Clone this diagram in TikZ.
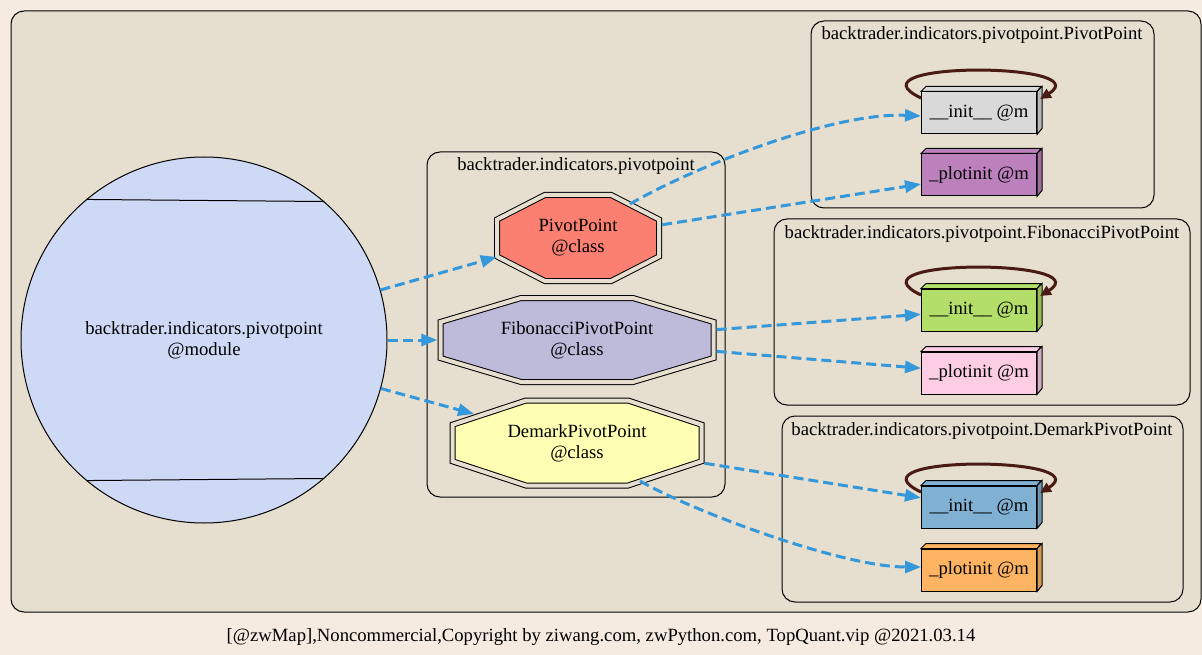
\documentclass[tikz,border=0pt]{standalone}
\usepackage{fontspec}
\setmainfont{Liberation Serif}
\usetikzlibrary{arrows.meta}

\definecolor{pagebg}{HTML}{F6EBE1}
\definecolor{clusterbg}{HTML}{E6DFCF}
\definecolor{modfill}{HTML}{CDD9F5}
\definecolor{edgeblue}{HTML}{3498DB}
\definecolor{loopbrown}{HTML}{4A1A14}
\definecolor{ppfill}{HTML}{FB8072}
\definecolor{fibfill}{HTML}{BEBADA}
\definecolor{dmfill}{HTML}{FFFFB3}
\definecolor{ppinitfill}{HTML}{D9D9D9}
\definecolor{ppplotfill}{HTML}{BC80BD}
\definecolor{fibinitfill}{HTML}{B3DE69}
\definecolor{fibplotfill}{HTML}{FCCDE5}
\definecolor{dminitfill}{HTML}{80B1D3}
\definecolor{dmplotfill}{HTML}{FDB462}

\tikzset{
  cluster/.style={draw, fill=clusterbg, rounded corners=13pt, line width=1pt},
  clusterlabel/.style={anchor=base, inner sep=0pt},
  octline/.style={draw, double=clusterbg, double distance=4pt, line width=1pt},
  methnode/.style={draw, line width=1pt, minimum width=115pt, minimum height=42pt, inner sep=0pt},
  dep/.style={draw=edgeblue, line width=3pt, dash pattern=on 10pt off 5pt,
    -{Triangle[length=16pt,width=12pt]}},
  selfloop/.style={draw=loopbrown, line width=3pt, -{Triangle[length=11pt,width=10pt]}},
}

% class octagon (double border): name, position, fill, half width, half height, text
\newcommand\classoct[6]{%
  \coordinate (#1c) at (#2);
  \draw[octline, fill=#3] (#1c) ++({-0.41*#4},{-#5}) -- ++({0.82*#4},0) -- ++({0.59*#4},{0.57*#5})
    -- ++(0,{0.86*#5}) -- ++({-0.59*#4},{0.57*#5}) -- ++({-0.82*#4},0) -- ++({-0.59*#4},{-0.57*#5})
    -- ++(0,{-0.86*#5}) -- cycle;
  \node[minimum width={2*#4+6}, minimum height={2*#5+6}, inner sep=0pt, align=center] (#1) at (#1c) {#6};
}

% method box with 3d faces: name, position, fill, text
\newcommand\methbox[4]{%
  \node[methnode, fill=#3] (#1) at (#2) {#4};
  \draw[line width=1pt, fill=#3] (#1.north west) -- ++(5,-5) -- ++(115,0) -- (#1.north east) -- cycle;
  \draw[line width=1pt, fill=#3!85!black] (#1.north east) -- ++(5,-5) -- ++(0,42) -- (#1.south east) -- cycle;
}

\begin{document}
\begin{tikzpicture}[x=1pt, y=-1pt, font=\fontsize{18.67}{21}\selectfont]

  \useasboundingbox[fill=pagebg] (0,0) rectangle (1202,655);

  % clusters
  \draw[cluster] (11,11) rectangle (1201,612);
  \draw[cluster] (427,152) rectangle (725,497);
  \draw[cluster] (811,21) rectangle (1154,208);
  \draw[cluster] (774,219) rectangle (1190,405);
  \draw[cluster] (782,416) rectangle (1183,602);

  \node[clusterlabel] (lbpkg) at (576,171) {backtrader.indicators.pivotpoint};
  \node[clusterlabel] (lbpp) at (982,40) {backtrader.indicators.pivotpoint.PivotPoint};
  \node[clusterlabel] (lbfib) at (982,238) {backtrader.indicators.pivotpoint.FibonacciPivotPoint};
  \node[clusterlabel] (lbdm) at (982,435) {backtrader.indicators.pivotpoint.DemarkPivotPoint};

  % module
  \node[circle, draw, line width=1pt, fill=modfill, minimum size=366pt, inner sep=0pt, align=center]
    (mod) at (204,340) {backtrader.indicators.pivotpoint\\@module};
  \draw[line width=1pt] (mod.130.6) -- (mod.49.4);
  \draw[line width=1pt] (mod.-130.6) -- (mod.-49.4);

  % classes
  \classoct{pp}{578,238}{ppfill}{81}{43}{PivotPoint\\@class}
  \classoct{fib}{577,340}{fibfill}{136.5}{42}{FibonacciPivotPoint\\@class}
  \classoct{dm}{577,443}{dmfill}{124.5}{42.5}{DemarkPivotPoint\\@class}

  % methods
  \methbox{ppinit}{979,113}{ppinitfill}{\_\_init\_\_ @m}
  \methbox{ppplot}{979,175}{ppplotfill}{\_plotinit @m}
  \methbox{fibinit}{979,310}{fibinitfill}{\_\_init\_\_ @m}
  \methbox{fibplot}{979,373}{fibplotfill}{\_plotinit @m}
  \methbox{dminit}{979,507}{dminitfill}{\_\_init\_\_ @m}
  \methbox{dmplot}{979,570}{dmplotfill}{\_plotinit @m}

  % self loops on __init__
  \foreach \m in {ppinit,fibinit,dminit}
    \draw[selfloop] ([yshift=15pt]\m.west) .. controls +(-78,-37) and +(60,-37) .. ([xshift=3pt,yshift=14pt]\m.east);

  % dependencies
  \draw[dep] (mod) -- ([xshift=3pt,yshift=-19pt]pp.west);
  \draw[dep] (mod) -- (fib);
  \draw[dep] (mod) -- ([xshift=-103pt,yshift=29pt]dm.center);
  \draw[dep] ([xshift=52pt,yshift=34pt]pp.center) .. controls +(60,-35) and +(-90,-4) .. ([yshift=-3pt]ppinit.west);
  \draw[dep] (pp) -- (ppplot);
  \draw[dep] (fib) -- (fibinit);
  \draw[dep] (fib) -- (fibplot);
  \draw[dep] (dm) -- (dminit);
  \draw[dep] ([xshift=63pt,yshift=-38pt]dm.center) .. controls +(50,29) and +(-80,0) .. ([yshift=3pt]dmplot.west);

  \node (footer) at (601,637) {[@zwMap],Noncommercial,Copyright by ziwang.com, zwPython.com, TopQuant.vip @2021.03.14};

\end{tikzpicture}
\end{document}
